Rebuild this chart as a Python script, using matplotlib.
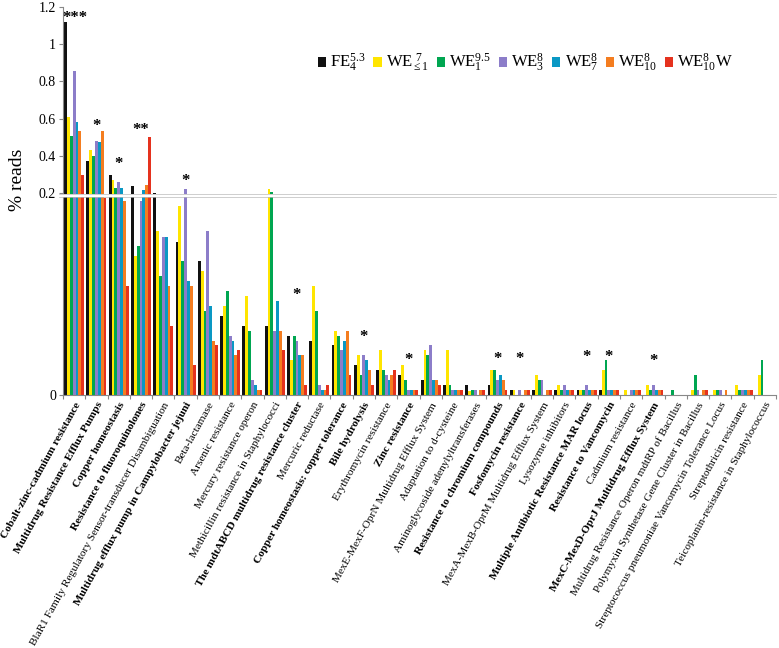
import matplotlib
matplotlib.use("Agg")
import matplotlib.pyplot as plt
import numpy as np
import matplotlib.transforms as mtrans
from matplotlib.scale import FuncScale

plt.rcParams['font.family'] = ['Liberation Serif', 'DejaVu Serif']
plt.rcParams['mathtext.fontset'] = 'custom'
plt.rcParams['mathtext.rm'] = 'Liberation Serif'
plt.rcParams['mathtext.it'] = 'Liberation Serif'
plt.rcParams['mathtext.bf'] = 'Liberation Serif:bold'

categories = [
    "Cobalt-zinc-cadmium resistance",
    "Multidrug Resistance Efflux Pumps",
    "Copper homeostasis",
    "Resistance to fluoroquinolones",
    "BlaR1 Family Regulatory Sensor-transducer Disambiguation",
    "Multidrug efflux pump in Campylobacter jejuni",
    "Beta-lactamase",
    "Arsenic resistance",
    "Mercury resistance operon",
    "Methicillin resistance in Staphylococci",
    "The mdtABCD multidrug resistance cluster",
    "Mercuric reductase",
    "Copper homeostasis: copper tolerance",
    "Bile hydrolysis",
    "Erythromycin resistance",
    "Zinc resistance",
    "MexE-MexF-OprN Multidrug Efflux System",
    "Adaptation to d-cysteine",
    "Aminoglycoside adenylyltransferases",
    "Resistance to chromium compounds",
    "Fosfomycin resistance",
    "MexA-MexB-OprM Multidrug Efflux System",
    "Lysozyme inhibitors",
    "Multiple Antibiotic Resistance MAR locus",
    "Resistance to Vancomycin",
    "Cadmium resistance",
    "MexC-MexD-OprJ Multidrug Efflux System",
    "Multidrug Resistance Operon mdtRP of Bacillus",
    "Polymyxin Synthetase Gene Cluster in Bacillus",
    "Streptococcus pneumoniae Vancomycin Tolerance Locus",
    "Streptothricin resistance",
    "Teicoplanin-resistance in Staphylococcus",
]
bold_categories = [
    "Cobalt-zinc-cadmium resistance",
    "Multidrug Resistance Efflux Pumps",
    "Copper homeostasis",
    "Resistance to fluoroquinolones",
    "Multidrug efflux pump in Campylobacter jejuni",
    "The mdtABCD multidrug resistance cluster",
    "Copper homeostasis: copper tolerance",
    "Bile hydrolysis",
    "Zinc resistance",
    "Resistance to chromium compounds",
    "Fosfomycin resistance",
    "Multiple Antibiotic Resistance MAR locus",
    "Resistance to Vancomycin",
    "MexC-MexD-OprJ Multidrug Efflux System",
]

series_labels = [r"FE$_{4}^{5.3}$", r"WE$_{\leq 1}^{\ 7}$", r"WE$_{1}^{9.5}$",
                 r"WE$_{3}^{8}$", r"WE$_{7}^{8}$", r"WE$_{10}^{8}$", r"WE$_{10}^{8}$W"]
series_colors = ["#111111", "#FFE500", "#00A651", "#8C7DC9", "#0A98C4", "#F47D20", "#E5321E"]

fe4 = [1.118, 0.370, 0.298, 0.238, 0.203, 0.152, 0.133, 0.0785, 0.0686, 0.0686, 0.0587,
       0.0538, 0.0495, 0.0297, 0.0248, 0.0198, 0.0149, 0.0099, 0.0099, 0.0099, 0.005,
       0.005, 0.005, 0.005, 0.005, 0, 0, 0, 0, 0, 0, 0]
we_le1 = [0.609, 0.431, 0.268, 0.138, 0.162, 0.187, 0.123, 0.088, 0.098, 0.220, 0.0347,
          0.108, 0.0637, 0.0396, 0.0446, 0.0297, 0.0446, 0.0446, 0.004, 0.0248, 0.005,
          0.0198, 0.0099, 0.005, 0.0248, 0.005, 0.0099, 0, 0.005, 0.005, 0.0099, 0.0198]
we1 = [0.507, 0.400, 0.228, 0.148, 0.118, 0.133, 0.0835, 0.103, 0.0637, 0.207, 0.0587,
       0.0835, 0.0587, 0.0198, 0.0248, 0.0149, 0.0396, 0.0099, 0.005, 0.0248, 0,
       0.0149, 0.005, 0.005, 0.0347, 0, 0.005, 0.005, 0.0198, 0.005, 0.005, 0.0347]
we3 = [0.856, 0.477, 0.261, 0.192, 0.157, 0.221, 0.162, 0.0587, 0.0149, 0.0637, 0.0538,
       0.0099, 0.0446, 0.0396, 0.0198, 0.005, 0.0495, 0.005, 0.005, 0.0149, 0.005,
       0.0149, 0.0099, 0.0099, 0.005, 0.005, 0.0099, 0, 0.005, 0.005, 0.005, 0]
we7 = [0.582, 0.472, 0.228, 0.216, 0.157, 0.113, 0.088, 0.0535, 0.0099, 0.0934, 0.0396,
       0.005, 0.0538, 0.0347, 0.0149, 0.005, 0.0149, 0.005, 0, 0.0198, 0,
       0, 0.005, 0.005, 0.005, 0.005, 0.005, 0, 0, 0, 0.005, 0]
we10 = [0.532, 0.531, 0.192, 0.243, 0.108, 0.108, 0.0535, 0.0396, 0.005, 0.0637, 0.0396,
        0.005, 0.0637, 0.0248, 0.0198, 0.005, 0.0149, 0.005, 0.005, 0.0149, 0.005,
        0.005, 0.005, 0.005, 0.005, 0.005, 0.005, 0, 0.005, 0.005, 0.005, 0]
we10w = [0.298, 0.195, 0.108, 0.502, 0.0686, 0.0297, 0.0495, 0.0446, 0.005, 0.0446, 0.0099,
         0.0099, 0.0198, 0.0099, 0.0248, 0.005, 0.0099, 0.005, 0.005, 0.005, 0.005,
         0.005, 0.005, 0.005, 0.005, 0.005, 0.005, 0, 0.005, 0, 0.005, 0]
series_values = [fe4, we_le1, we1, we3, we7, we10, we10w]

# significance marks: category index, text, level
star_cats = [0, 1, 2, 3, 5, 10, 13, 15, 19, 20, 23, 24, 26]
star_texts = ["***", "*", "*", "**", "*", "*", "*", "*", "*", "*", "*", "*", "*"]
star_levels = [1.140, 0.559, 0.356, 0.538, 0.264, 0.099, 0.0574, 0.0347, 0.0356, 0.0356,
               0.0376, 0.0376, 0.034]

y_ticks = [0, 0.2, 0.4, 0.6, 0.8, 1.0, 1.2]
y_ticklabels = ["0", "0.2", "0.4", "0.6", "0.8", "1", "1.2"]

# broken scale: 0-0.2 expanded, 0.2-1.2 compressed
BRK = 0.2
K = 0.1847


def fwd(v):
    v = np.asarray(v, dtype=float)
    return np.where(v <= BRK, v, BRK + (v - BRK) * K)


def inv(t):
    t = np.asarray(t, dtype=float)
    return np.where(t <= BRK, t, BRK + (t - BRK) / K)


fig = plt.figure(figsize=(7.79, 6.48), dpi=100)
ax = fig.add_axes([63 / 779, 1 - 395 / 648, 713 / 779, (395 - 6.7) / 648])
ax.set_yscale(FuncScale(ax, (fwd, inv)))

n = len(categories)
x = np.arange(n)
nser = len(series_values)
w = 0.128
for j, (vals, col, lab) in enumerate(zip(series_values, series_colors, series_labels)):
    ax.bar(x + (j - (nser - 1) / 2) * w, vals, width=w, color=col, label=lab,
           linewidth=0, zorder=2)

ax.set_xlim(-0.5, n - 0.5)
ax.set_ylim(0, 1.2)
ax.set_yticks(y_ticks)
ax.set_yticklabels(y_ticklabels, fontsize=10)
ax.tick_params(axis='y', length=3, width=0.8, color='#888888', pad=2)

ax.set_xticks(x)
ax.set_xticklabels(categories, rotation=61, ha='right', rotation_mode='anchor',
                   fontsize=8.1)
for t in ax.get_xticklabels():
    if t.get_text() in bold_categories:
        t.set_fontweight('bold')
ax.tick_params(axis='x', which='major', length=0, pad=4)
ax.set_xticks(np.arange(-0.5, n, 1.0), minor=True)
ax.tick_params(axis='x', which='minor', length=3, width=0.8, color='#888888')

for s in ['top', 'right']:
    ax.spines[s].set_visible(False)
for s in ['left', 'bottom']:
    ax.spines[s].set_color('#888888')
    ax.spines[s].set_linewidth(0.8)

fig.text(18 / 779, 1 - 180 / 648, "% reads", rotation=90, ha='center', va='center',
         fontsize=14)

# break band
trans = mtrans.blended_transform_factory(ax.transAxes, ax.transData)
ax.fill_between([-0.006, 1.0], [0.1962, 0.1962], [0.1993, 0.1993], color='white',
                transform=trans, zorder=5, clip_on=False, linewidth=0)
ax.plot([-0.006, 1.0], [0.1962, 0.1962], color='#bbbbbb', lw=0.5, transform=trans,
        zorder=6, clip_on=False)
ax.plot([-0.006, 1.0], [0.1993, 0.1993], color='#bbbbbb', lw=0.5, transform=trans,
        zorder=6, clip_on=False)

for ci, txt, lv in zip(star_cats, star_texts, star_levels):
    xx = ci if txt != "***" else ci + 0.05
    ax.text(xx, lv, txt, ha='center', va='center', fontsize=12, fontweight='bold',
            zorder=7)

leg = ax.legend(loc='upper left', bbox_to_anchor=(0.348, 0.9), ncol=7, frameon=False,
                fontsize=12, handlelength=0.5, handleheight=0.5, handletextpad=0.25,
                columnspacing=0.45, borderaxespad=0)

fig.savefig("out.png", dpi=100)
